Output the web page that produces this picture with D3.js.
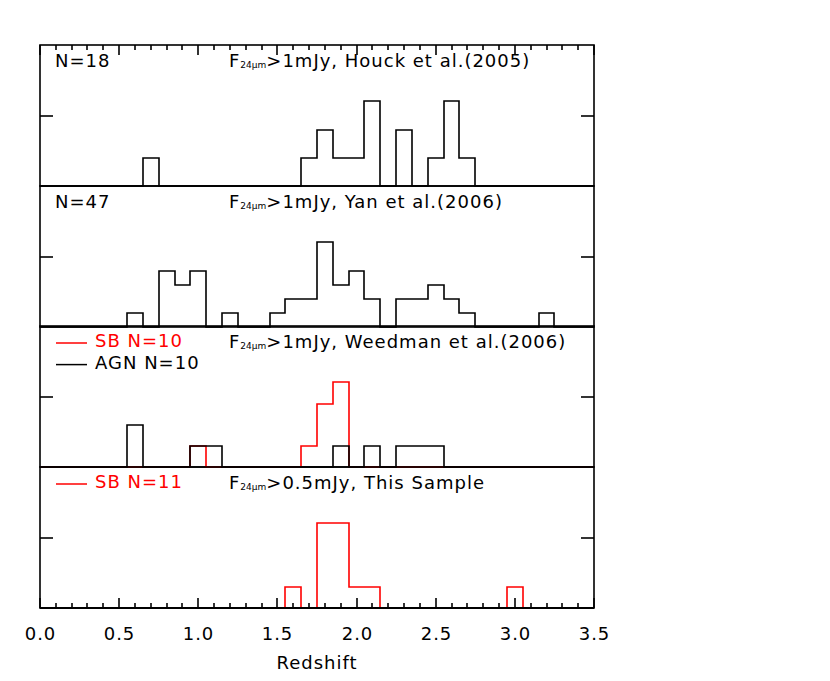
<!DOCTYPE html>
<html>
<head>
<meta charset="utf-8">
<script src="https://cdn.jsdelivr.net/npm/d3@7"></script>
<style>
  body { margin: 0; background: #fff; }
  text { font-family: "DejaVu Sans", sans-serif; letter-spacing: 1px; }
</style>
</head>
<body>
<div id="chart"></div>
<script>
// histogram bins are 0.1 wide, keyed by bin centre (redshift)
const houckZ = [0.7, 1.7, 1.8, 1.9, 2.0, 2.1, 2.3, 2.5, 2.6, 2.7];
const houckN = [1, 1, 2, 1, 1, 3, 2, 1, 3, 1];

const yanZ = [0.6, 0.8, 0.9, 1.0, 1.2, 1.5, 1.6, 1.7, 1.8, 1.9, 2.0, 2.1, 2.3, 2.4, 2.5, 2.6, 2.7, 3.2];
const yanN = [1, 4, 3, 4, 1, 1, 2, 2, 6, 3, 4, 2, 2, 2, 3, 2, 1, 1];

const weedAgnZ = [0.6, 1.0, 1.1, 1.9, 2.1, 2.3, 2.4, 2.5];
const weedAgnN = [2, 1, 1, 1, 1, 1, 1, 1];
const weedSbZ = [1.0, 1.7, 1.8, 1.9];
const weedSbN = [1, 1, 3, 4];

const thisSbZ = [1.6, 1.8, 1.9, 2.0, 2.1, 3.0];
const thisSbN = [1, 4, 4, 1, 1, 1];

const panelTitles = ['>1mJy, Houck et al.(2005)', '>1mJy, Yan et al.(2006)',
                     '>1mJy, Weedman et al.(2006)', '>0.5mJy, This Sample'];
const xTickLabels = ['0.0', '0.5', '1.0', '1.5', '2.0', '2.5', '3.0', '3.5'];

const width = 830, height = 681;
const plotLeft = 40, plotRight = 594, plotTop = 45, plotBottom = 607;
const panelH = (plotBottom - plotTop) / 4;
const lw = 1.6;

const svg = d3.select('#chart').append('svg')
    .attr('width', width)
    .attr('height', height);

const x = d3.scaleLinear().domain([0, 3.5]).range([plotLeft, plotRight])
    .interpolate(d3.interpolateRound);

const minorVals = d3.range(0, 36).map(i => i / 10);
const majorVals = xTickLabels.map(Number);

// edges at x.x5, padded with the axis ends
let edges = [0];
for (let e = 0.05; e < 3.5; e += 0.1) edges.push(+e.toFixed(2));
edges.push(3.5);

function histPoints(zs, ns) {
    let lookup = {};
    zs.forEach((z, i) => lookup[Math.round(z * 10)] = ns[i]);
    let pts = [];
    for (let i = 0; i < edges.length - 1; i++) {
        let c = Math.round((edges[i] + edges[i + 1]) / 2 * 10);
        pts.push({z: edges[i], n: lookup[c] || 0});
    }
    pts.push({z: 3.5, n: 0});
    return pts;
}

// inward x ticks along one edge (dir = +1 down, -1 up)
function xTicks(g, yEdge, dir) {
    minorVals.forEach((v, i) => {
        let len = (i % 5 === 0) ? 10 : 5;
        g.append('line')
            .attr('x1', x(v)).attr('x2', x(v))
            .attr('y1', yEdge).attr('y2', yEdge + dir * len)
            .attr('stroke', 'black').attr('stroke-width', lw);
    });
}

const panels = [
    {label: 'N=18', series: [{z: houckZ, n: houckN, color: 'black'}]},
    {label: 'N=47', series: [{z: yanZ, n: yanN, color: 'black'}]},
    {legend: [['SB N=10', 'red'], ['AGN N=10', 'black']],
     series: [{z: weedSbZ, n: weedSbN, color: 'red'}, {z: weedAgnZ, n: weedAgnN, color: 'black'}]},
    {legend: [['SB N=11', 'red']], series: [{z: thisSbZ, n: thisSbN, color: 'red'}]}
];

panels.forEach((p, k) => {
    let y0 = Math.round(plotTop + k * panelH), y1 = Math.round(y0 + panelH);
    let maxN = d3.max(p.series, s => d3.max(s.n));
    let y = d3.scaleLinear().domain([0, maxN * 5 / 3]).range([y1, y0])
        .interpolate(d3.interpolateRound);
    let g = svg.append('g');

    // frame
    g.append('rect')
        .attr('x', plotLeft).attr('y', y0)
        .attr('width', plotRight - plotLeft).attr('height', y1 - y0)
        .attr('fill', 'none').attr('stroke', 'black').attr('stroke-width', lw);

    // one unlabeled y tick on both sides at mid range
    let ym = y(maxN * 5 / 6);
    g.append('line').attr('x1', plotLeft).attr('x2', plotLeft + 13).attr('y1', ym).attr('y2', ym)
        .attr('stroke', 'black').attr('stroke-width', lw);
    g.append('line').attr('x1', plotRight).attr('x2', plotRight - 13).attr('y1', ym).attr('y2', ym)
        .attr('stroke', 'black').attr('stroke-width', lw);

    let histLine = d3.line()
        .x(d => x(d.z))
        .y(d => y(d.n))
        .curve(d3.curveStepAfter);

    p.series.forEach(s => {
        g.append('path')
            .datum(histPoints(s.z, s.n))
            .attr('d', histLine)
            .attr('fill', 'none')
            .attr('stroke', s.color)
            .attr('stroke-width', lw);
    });

    if (k === 0) xTicks(g, y0, 1);
    if (k === panels.length - 1) {
        // bottom axis line sits over the last histogram's baseline
        g.append('line').attr('x1', plotLeft).attr('x2', plotRight).attr('y1', y1).attr('y2', y1)
            .attr('stroke', 'black').attr('stroke-width', 2);
        xTicks(g, y1, -1);
    }

    // labels
    if (p.label) {
        g.append('text').attr('x', 55).attr('y', y0 + 21.5)
            .attr('font-size', 18).text(p.label);
    }
    if (p.legend) {
        p.legend.forEach((l, j) => {
            let by = y0 + 21 + j * 21.6;
            g.append('line').attr('x1', 56).attr('x2', 87).attr('y1', by - 4).attr('y2', by - 4)
                .attr('stroke', l[1]).attr('stroke-width', 1.5);
            g.append('text').attr('x', 95).attr('y', by)
                .attr('font-size', 18).attr('fill', l[1]).text(l[0]);
        });
    }
    let t = g.append('text').attr('x', 229).attr('y', y0 + 21.5).attr('font-size', 18);
    t.append('tspan').text('F');
    t.append('tspan').attr('font-size', 9).attr('dy', 1).attr('letter-spacing', 0).text('24μm');
    t.append('tspan').attr('dy', -1).text(panelTitles[k]);
});

// tick labels
const labelAxis = svg.append('g')
    .attr('transform', `translate(0,${plotBottom})`)
    .call(d3.axisBottom(x).tickValues(majorVals).tickSize(0).tickPadding(0)
        .tickFormat((d, i) => xTickLabels[i]));
labelAxis.select('.domain').remove();
labelAxis.selectAll('text')
    .attr('y', 33).attr('dy', null)
    .attr('font-size', 18).attr('font-family', '"DejaVu Sans", sans-serif')
    .attr('fill', 'black');

svg.append('text')
    .attr('x', x(1.75)).attr('y', 669)
    .attr('text-anchor', 'middle').attr('font-size', 18)
    .text('Redshift');
</script>
</body>
</html>
